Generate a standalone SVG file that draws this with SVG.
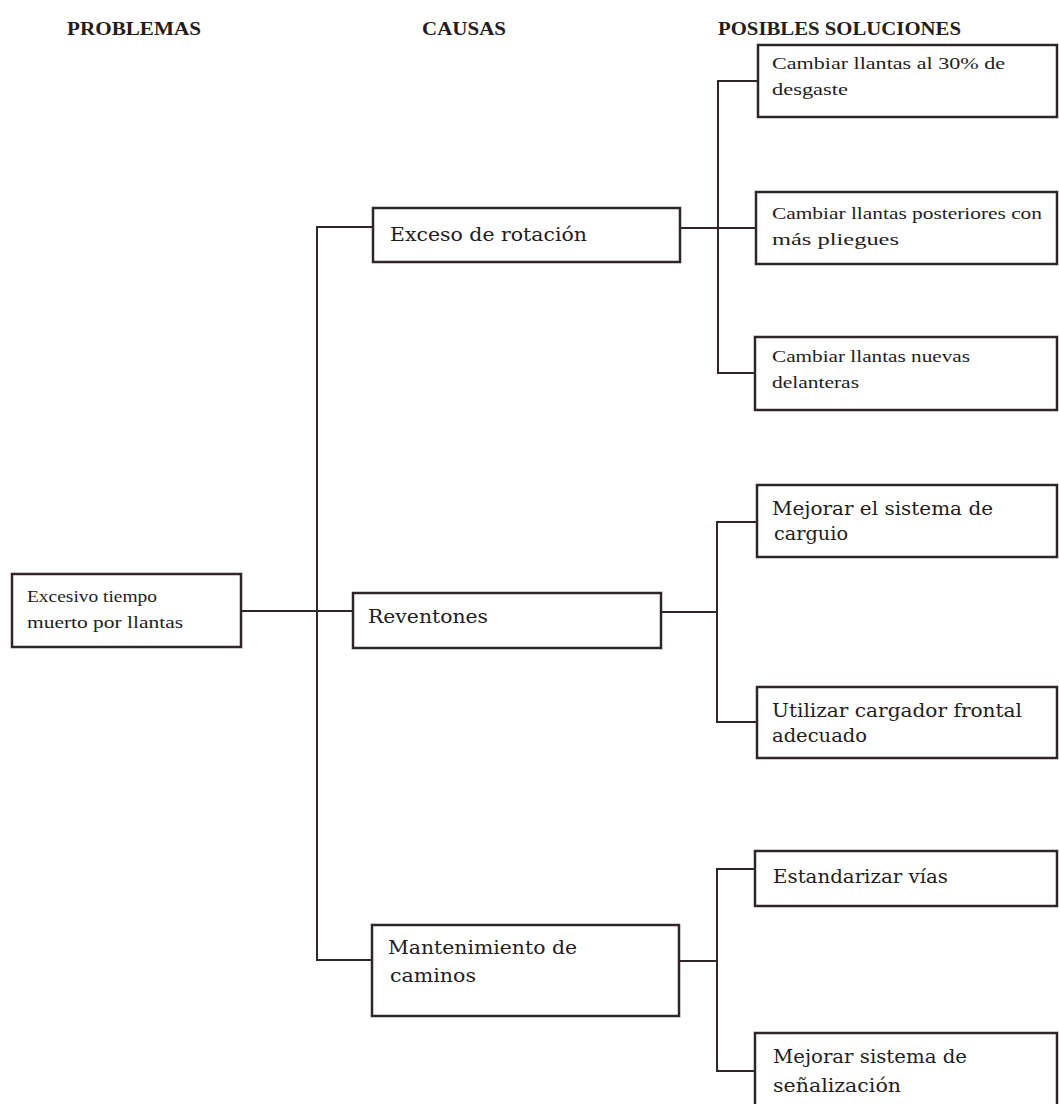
<svg xmlns="http://www.w3.org/2000/svg" width="1059" height="1104" viewBox="0 0 1059 1104">
  <style>
    .box { fill: #ffffff; stroke: #2e2629; stroke-width: 2.5; }
    .wire { fill: none; stroke: #2e2629; stroke-width: 2; }
    .head { font-family: "Liberation Serif", serif; font-weight: bold; font-size: 19px; fill: #241c20; }
    .lbl { font-family: "DejaVu Serif", "Liberation Serif", serif; font-size: 18px; fill: #241c20; }
    .sm { font-family: "Liberation Serif", serif; font-size: 17px; fill: #241c20; }
  </style>
  <rect width="1059" height="1104" fill="#ffffff"/>

  <!-- column headings -->
  <g id="headings">
    <text class="head" x="67" y="35" textLength="134" lengthAdjust="spacingAndGlyphs">PROBLEMAS</text>
    <text class="head" x="422" y="35" textLength="84" lengthAdjust="spacingAndGlyphs">CAUSAS</text>
    <text class="head" x="718" y="35" textLength="243" lengthAdjust="spacingAndGlyphs">POSIBLES SOLUCIONES</text>
  </g>

  <!-- connectors -->
  <g id="connectors">
    <!-- problem to causes -->
    <path class="wire" d="M241 611 H353"/>
    <path class="wire" d="M373 227 H317 V960 H372"/>
    <!-- Exceso de rotación to its solutions -->
    <path class="wire" d="M680 228 H756"/>
    <path class="wire" d="M758 81 H718 V373 H755"/>
    <!-- Reventones to its solutions -->
    <path class="wire" d="M661 612 H717"/>
    <path class="wire" d="M757 522 H717 V722 H757"/>
    <!-- Mantenimiento de caminos to its solutions -->
    <path class="wire" d="M679 961 H717"/>
    <path class="wire" d="M755 869 H717 V1071 H755"/>
  </g>

  <!-- problem -->
  <g id="problema">
    <rect class="box" x="12" y="574" width="229" height="73"/>
    <text class="sm" x="27" y="602" textLength="130" lengthAdjust="spacingAndGlyphs">Excesivo tiempo</text>
    <text class="sm" x="27" y="628" textLength="156" lengthAdjust="spacingAndGlyphs">muerto por llantas</text>
  </g>

  <!-- causes -->
  <g id="causa-rotacion">
    <rect class="box" x="373" y="208" width="307" height="54"/>
    <text class="lbl" x="390" y="241" textLength="197" lengthAdjust="spacingAndGlyphs">Exceso de rotación</text>
  </g>
  <g id="causa-reventones">
    <rect class="box" x="353" y="593" width="308" height="55"/>
    <text class="lbl" x="368" y="623" textLength="120" lengthAdjust="spacingAndGlyphs">Reventones</text>
  </g>
  <g id="causa-caminos">
    <rect class="box" x="372" y="925" width="307" height="91"/>
    <text class="lbl" x="388" y="954" textLength="189" lengthAdjust="spacingAndGlyphs">Mantenimiento de</text>
    <text class="lbl" x="390" y="982" textLength="86" lengthAdjust="spacingAndGlyphs">caminos</text>
  </g>

  <!-- solutions -->
  <g id="sol-30">
    <rect class="box" x="758" y="45" width="299" height="72"/>
    <text class="sm" x="772" y="69" textLength="233" lengthAdjust="spacingAndGlyphs">Cambiar llantas al 30% de</text>
    <text class="sm" x="772" y="95" textLength="76" lengthAdjust="spacingAndGlyphs">desgaste</text>
  </g>
  <g id="sol-posteriores">
    <rect class="box" x="756" y="192" width="301" height="72"/>
    <text class="sm" x="772" y="219" textLength="270" lengthAdjust="spacingAndGlyphs">Cambiar llantas posteriores con</text>
    <text class="sm" x="772" y="245" textLength="127" lengthAdjust="spacingAndGlyphs">más pliegues</text>
  </g>
  <g id="sol-delanteras">
    <rect class="box" x="755" y="337" width="302" height="73"/>
    <text class="sm" x="772" y="362" textLength="198" lengthAdjust="spacingAndGlyphs">Cambiar llantas nuevas</text>
    <text class="sm" x="772" y="388" textLength="87" lengthAdjust="spacingAndGlyphs">delanteras</text>
  </g>
  <g id="sol-carguio">
    <rect class="box" x="757" y="485" width="300" height="72"/>
    <text class="lbl" x="772" y="515" textLength="221" lengthAdjust="spacingAndGlyphs">Mejorar el sistema de</text>
    <text class="lbl" x="774" y="540" textLength="74" lengthAdjust="spacingAndGlyphs">carguio</text>
  </g>
  <g id="sol-cargador">
    <rect class="box" x="757" y="687" width="300" height="71"/>
    <text class="lbl" x="772" y="717" textLength="250" lengthAdjust="spacingAndGlyphs">Utilizar cargador frontal</text>
    <text class="lbl" x="772" y="742" textLength="95" lengthAdjust="spacingAndGlyphs">adecuado</text>
  </g>
  <g id="sol-vias">
    <rect class="box" x="755" y="851" width="302" height="55"/>
    <text class="lbl" x="773" y="883" textLength="175" lengthAdjust="spacingAndGlyphs">Estandarizar vías</text>
  </g>
  <g id="sol-senalizacion">
    <rect class="box" x="755" y="1033" width="302" height="80"/>
    <text class="lbl" x="773" y="1063" textLength="194" lengthAdjust="spacingAndGlyphs">Mejorar sistema de</text>
    <text class="lbl" x="773" y="1092" textLength="128" lengthAdjust="spacingAndGlyphs">señalización</text>
  </g>
</svg>
